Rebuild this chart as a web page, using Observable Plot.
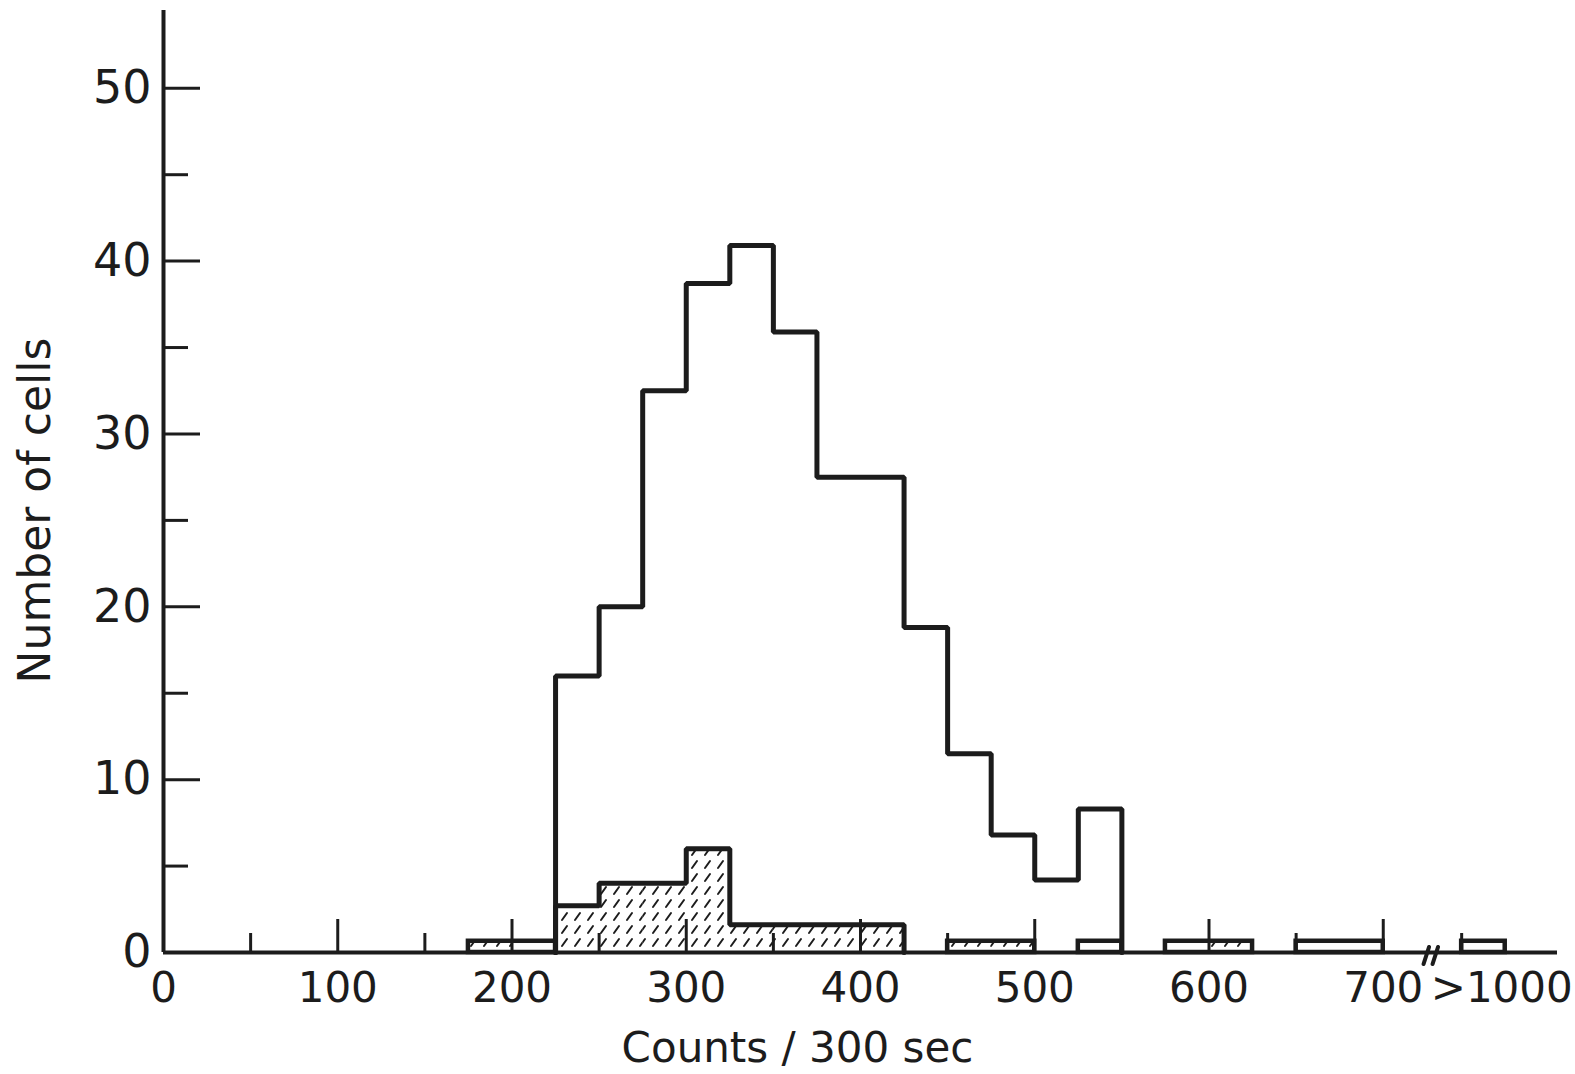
<!DOCTYPE html>
<html>
<head>
<meta charset="utf-8">
<script src="https://cdn.jsdelivr.net/npm/d3@7"></script>
<script src="https://cdn.jsdelivr.net/npm/@observablehq/plot@0.6"></script>
<style>
  body { margin: 0; background: #ffffff; }
  svg { display: block; }
</style>
</head>
<body>
<div id="chart"></div>
<script>
// ---- data ----
const binWidth = 25;
// all cells: outline histogram
const totalStarts = [225, 250, 275, 300, 325, 350, 375, 400, 425, 450, 475, 500, 525];
const totalCounts = [16, 20, 32.5, 38.7, 40.9, 35.9, 27.5, 27.5, 18.8, 11.5, 6.8, 4.2, 8.3];
// hatched subset
const hatchStarts = [175, 225, 250, 275, 300, 325, 350, 375, 400, 450, 475, 600];
const hatchCounts = [0.65, 2.7, 4, 4, 6, 1.6, 1.6, 1.6, 1.6, 0.65, 0.65, 0.65];
// contiguous hatched run drawn with a heavy outline
const hatchRunStarts = [225, 250, 275, 300, 325, 350, 375, 400];
const hatchRunCounts = [2.7, 4, 4, 6, 1.6, 1.6, 1.6, 1.6];
// single-cell boxes
const boxStarts = [175, 450, 525, 575, 650, 745];
const boxEnds   = [225, 500, 550, 625, 700, 770];
const boxCounts = [0.65, 0.65, 0.65, 0.65, 0.65, 0.65];
// axes
const xTickValues = [0, 100, 200, 300, 400, 500, 600, 700, 768];
const xTickLabels = ["0", "100", "200", "300", "400", "500", "600", "700", ">1000"];
const xMajorTicks = [100, 200, 300, 400, 500, 600, 700];
const xMinorTicks = [50, 150, 250, 350, 450, 550, 650, 745];
const yTickValues = [0, 10, 20, 30, 40, 50];
const yMinorTicks = [5, 15, 25, 35, 45];
const axisBreak = [727];
const xLabel = "Counts / 300 sec";
const yLabel = "Number of cells";

// ---- derived tables ----
function stepPoints(starts, counts) {
  const pts = [{x: starts[0], y: 0}];
  starts.forEach((s, i) => {
    pts.push({x: s, y: counts[i]});
    pts.push({x: s + binWidth, y: counts[i]});
  });
  pts.push({x: starts[starts.length - 1] + binWidth, y: 0});
  return pts;
}
const totalLine = stepPoints(totalStarts, totalCounts);
const hatchLine = stepPoints(hatchRunStarts, hatchRunCounts);
const hatchRects = hatchStarts.map((s, i) => ({x1: s, x2: s + binWidth, y: hatchCounts[i]}));
const boxes = boxStarts.map((s, i) => ({x1: s, x2: boxEnds[i], y: boxCounts[i]}));

const W = 1575, H = 1074;
const mL = 163, mR = 18, mT = 10, mB = 122;
const plotW = W - mL - mR, plotH = H - mT - mB;
const ink = "#1c1c1c";

// a plain stroke shape for the axis-break marks
const slash = {draw(context, l) { context.moveTo(0, 0); context.lineTo(0, -l); }};

const chart = Plot.plot({
  width: W,
  height: H,
  marginLeft: mL,
  marginRight: mR,
  marginTop: mT,
  marginBottom: mB,
  style: {fontFamily: "DejaVu Sans", color: ink, background: "#ffffff"},
  x: {domain: [0, 800]},
  y: {domain: [0, 54.5]},
  marks: [
    Plot.rectY(hatchRects, {x1: "x1", x2: "x2", y: "y", fill: "url(#hatch)", inset: 0}),
    Plot.rect(boxes, {x1: "x1", x2: "x2", y1: 0, y2: "y", fill: "none", stroke: ink, strokeWidth: 4.5, inset: 0}),
    Plot.line(hatchLine, {x: "x", y: "y", stroke: ink, strokeWidth: 5, strokeLinejoin: "miter"}),
    Plot.line(totalLine, {x: "x", y: "y", stroke: ink, strokeWidth: 5, strokeLinejoin: "miter"}),
    // axis lines
    Plot.ruleX([0], {stroke: ink, strokeWidth: 4}),
    Plot.ruleY([0], {stroke: ink, strokeWidth: 4}),
    // inward ticks
    Plot.tickY(yTickValues.filter(d => d > 0), {y: d => d, stroke: ink, strokeWidth: 3, insetRight: plotW - 37}),
    Plot.tickY(yMinorTicks, {y: d => d, stroke: ink, strokeWidth: 3, insetRight: plotW - 25}),
    Plot.tickX(xMajorTicks, {x: d => d, stroke: ink, strokeWidth: 3, insetTop: plotH - 33}),
    Plot.tickX(xMinorTicks, {x: d => d, stroke: ink, strokeWidth: 3, insetTop: plotH - 19}),
    // axis break: two slanted strokes
    Plot.vector(axisBreak, {x: d => d, y: 0, length: 18, rotate: 18, anchor: "middle", shape: slash, stroke: ink, strokeWidth: 4, dx: -4, dy: 3}),
    Plot.vector(axisBreak, {x: d => d, y: 0, length: 18, rotate: 18, anchor: "middle", shape: slash, stroke: ink, strokeWidth: 4, dx: 5, dy: 3}),
    // tick labels
    Plot.axisY({ticks: yTickValues, tickSize: 0, tickPadding: 12, fontSize: 46, label: null, fill: ink}),
    Plot.axisX({ticks: xTickValues, tickFormat: d => xTickLabels[xTickValues.indexOf(d)], tickSize: 0, tickPadding: 20, fontSize: 42, label: null, fill: ink}),
    // axis titles
    Plot.text([yLabel], {frameAnchor: "left", textAnchor: "middle", lineAnchor: "middle", rotate: -90, dx: -128, dy: 29, fontSize: 44, fill: ink, text: d => d}),
    Plot.text([xLabel], {frameAnchor: "bottom", textAnchor: "middle", lineAnchor: "middle", dx: -63, dy: 96, fontSize: 42, fill: ink, text: d => d})
  ]
});

// hatch pattern definition
const svg = d3.select(chart);
const defs = svg.insert("defs", ":first-child");
const pat = defs.append("pattern")
  .attr("id", "hatch")
  .attr("patternUnits", "userSpaceOnUse")
  .attr("width", 13)
  .attr("height", 13);
pat.append("rect").attr("width", 13).attr("height", 13).attr("fill", "#ffffff");
pat.append("path").attr("d", "M3,10L8,3").attr("stroke", ink).attr("stroke-width", 2).attr("stroke-linecap", "round");

document.getElementById("chart").appendChild(chart);
</script>
</body>
</html>
